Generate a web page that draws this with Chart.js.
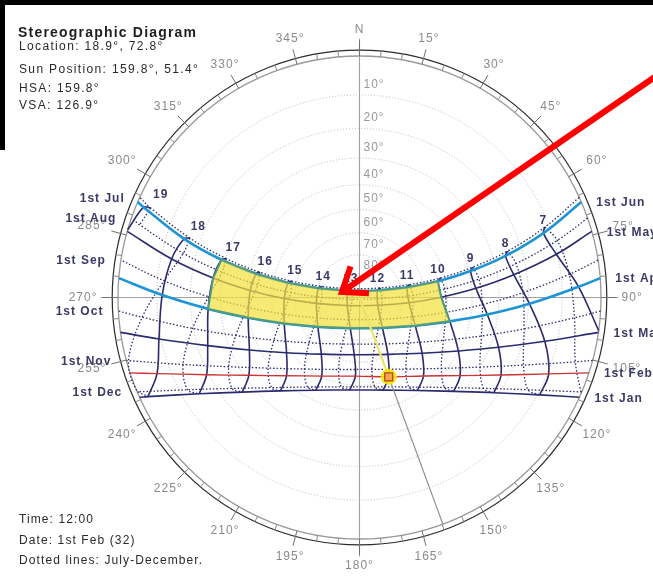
<!DOCTYPE html>
<html>
<head>
<meta charset="utf-8">
<script src="https://cdn.jsdelivr.net/npm/chart.js@4.4.1/dist/chart.umd.min.js"></script>
<style>
  html, body { margin: 0; padding: 0; background: #fff; }
  canvas { display: block; }
</style>
</head>
<body>
<canvas id="c" width="653" height="581"></canvas>
<script>
// Clock hours drawn as hour lines
const hours = [7, 8, 9, 10, 11, 12, 13, 14, 15, 16, 17, 18, 19];

// Sun position [azimuth, altitude] in degrees on the 1st of each month, one entry per clock hour (null = below horizon)
const jan = [null, [118.4, 9.4], [125.3, 21.4], [134.9, 32.3], [148.1, 41.2], [165.7, 46.8], [186.0, 47.9], [205.2, 44.0], [220.2, 36.3], [231.1, 26.1], [239.0, 14.5], [244.9, 1.9], null];
const feb = [null, [112.0, 9.6], [118.7, 22.5], [127.8, 34.4], [140.8, 44.5], [159.8, 51.4], [183.0, 53.9], [205.7, 50.3], [223.0, 42.2], [234.9, 31.5], [243.2, 19.3], [249.4, 6.3], null];
const mar = [[97.9, 0], [103.3, 13.5], [109.7, 27.1], [118.4, 40.1], [131.7, 51.7], [153.5, 60.5], [185.3, 63.2], [214.0, 58.4], [232.9, 48.5], [244.5, 36.4], [252.4, 23.2], [258.3, 9.4], null];
const apr = [[87.2, 5.5], [92.1, 19.7], [97.6, 33.8], [104.8, 47.7], [116.8, 61.0], [142.9, 72.1], [196.8, 74.9], [234.8, 66.2], [250.9, 53.5], [259.7, 39.8], [265.7, 25.7], [270.7, 11.5], null];
const may = [[77.6, 10.3], [81.6, 24.3], [85.5, 38.4], [89.8, 52.6], [96.0, 66.7], [113.1, 80.6], [236.7, 83.1], [262.2, 69.6], [269.2, 55.4], [273.7, 41.2], [277.6, 27.1], [281.6, 13.1], [286.3, 0]];
const jun = [[70.7, 12.2], [74.1, 25.7], [76.6, 39.4], [78.3, 53.3], [78.0, 67.2], [68.5, 80.9], [300.3, 83.7], [282.6, 70.2], [281.6, 56.3], [282.9, 42.5], [285.3, 28.7], [288.5, 15.1], [292.7, 1.8]];
const jul = [[69.2, 11.2], [72.6, 24.6], [75.0, 38.2], [76.4, 52.0], [75.5, 65.8], [65.2, 79.2], [316.7, 84.2], [286.4, 71.4], [283.6, 57.7], [284.2, 43.9], [286.3, 30.2], [289.3, 16.7], [293.2, 3.5]];
const aug = [[73.9, 9.1], [77.8, 22.9], [81.2, 36.8], [84.3, 50.9], [87.6, 65.1], [92.4, 79.3], [257.8, 86.4], [270.4, 72.2], [274.1, 58.1], [277.2, 44.0], [280.5, 29.9], [284.1, 16.1], [288.3, 2.4]];
const sep = [[83.7, 7.7], [88.3, 21.8], [93.3, 36.0], [99.7, 50.1], [110.3, 63.9], [136.8, 75.9], [206.7, 78.3], [244.7, 67.7], [257.8, 54.2], [265.0, 40.2], [270.3, 26.0], [274.9, 11.8], null];
const oct = [[95.4, 6.4], [100.8, 20.5], [107.5, 34.2], [117.0, 47.4], [132.9, 59.1], [161.5, 67.0], [200.3, 66.8], [228.1, 58.6], [243.5, 46.8], [252.9, 33.6], [259.5, 19.8], [264.8, 5.8], null];
const nov = [[106.6, 4.0], [112.4, 17.4], [120.0, 30.1], [130.9, 41.7], [147.1, 51.1], [170.2, 56.4], [196.2, 55.5], [217.6, 49.0], [232.3, 38.9], [242.1, 27.0], [249.2, 14.0], [254.7, 0.5], null];
const dec = [[113.1, 0.2], [118.7, 13.0], [126.2, 25.0], [136.6, 35.7], [151.1, 44.1], [170.2, 48.8], [191.4, 48.6], [210.1, 43.6], [224.3, 34.9], [234.5, 24.1], [241.8, 12.1], [247.6, 0], null];

// Sunrise and sunset azimuths (degrees) for the same dates
const sunrise = [114.4, 108.2, 98.3, 85.4, 74.1, 66.7, 65.5, 70.8, 81.1, 93.2, 105.1, 113.0];
const sunset = [245.6, 251.8, 261.7, 274.6, 285.9, 293.3, 294.5, 289.2, 278.9, 266.8, 254.9, 247.0];

const monthLabels = ['1st Jan', '1st Feb', '1st Mar', '1st Apr', '1st May', '1st Jun',
                     '1st Jul', '1st Aug', '1st Sep', '1st Oct', '1st Nov', '1st Dec'];

// Axis ticks
const altitudeTicks = [10, 20, 30, 40, 50, 60, 70, 80];
const azimuthTicks = [0, 15, 30, 45, 60, 75, 90, 105, 120, 135, 150, 165, 180, 195, 210, 225, 240, 255, 270, 285, 300, 315, 330, 345];

// Current sun position [azimuth, altitude] and the shaded window (hours 10-17, April to June)
const sunPos = [159.8, 51.4];
const shadeHours = [10, 17];
const arrowTip = [287.4, 81.3];

const infoLines = ['Location: 18.9°, 72.8°', 'Sun Position: 159.8°, 51.4°', 'HSA: 159.8°', 'VSA: 126.9°'];
const footLines = ['Time: 12:00', 'Date: 1st Feb (32)', 'Dotted lines: July-December.'];

const months = [jan, feb, mar, apr, may, jun, jul, aug, sep, oct, nov, dec];

// Stereographic projection of (azimuth, altitude) onto the plane, horizon radius = 1
function proj(az, alt) {
  const t = Math.tan((90 - alt) * Math.PI / 360);
  const a = az * Math.PI / 180;
  return { x: t * Math.sin(a), y: t * Math.cos(a) };
}

function dateLine(i) {
  const pts = [proj(sunrise[i], 0)];
  months[i].forEach(p => { if (p && p[1] > 0) pts.push(proj(p[0], p[1])); });
  pts.push(proj(sunset[i], 0));
  return pts;
}

function hourLine(list, j) {
  return list.map(m => m[j]).filter(p => p).map(p => proj(p[0], p[1]));
}

const NAVY = '#2a2a6e';
const datasets = [];

// sun marker
datasets.push({ data: [proj(sunPos[0], sunPos[1])], pointRadius: 5.6, pointStyle: 'rect',
  pointBackgroundColor: '#f2a54e', pointBorderColor: '#b5480f', pointBorderWidth: 1.3, order: -2 });
datasets.push({ data: [proj(sunPos[0], sunPos[1])], pointRadius: 8, pointBackgroundColor: 'rgba(247,228,10,0.9)',
  pointBorderWidth: 0, order: -1 });

// sun azimuth line: zenith to sun, sun to horizon
datasets.push({ data: [proj(sunPos[0], 90), proj(sunPos[0], sunPos[1])], showLine: true,
  borderColor: '#ebe46a', borderWidth: 2.2, pointRadius: 0, order: 0 });
datasets.push({ data: [proj(sunPos[0], sunPos[1]), proj(sunPos[0], 0)], showLine: true,
  borderColor: '#8d8d8d', borderWidth: 1.2, pointRadius: 0, order: 0 });

// shaded window
(function () {
  const a = hours.indexOf(shadeHours[0]), b = hours.indexOf(shadeHours[1]);
  const pts = [];
  for (let j = a; j <= b; j++) pts.push(proj(jun[j][0], jun[j][1]));
  pts.push(proj(may[b][0], may[b][1]));
  for (let j = b; j >= a; j--) pts.push(proj(apr[j][0], apr[j][1]));
  pts.push(proj(may[a][0], may[a][1]));
  pts.push(proj(jun[a][0], jun[a][1]));
  datasets.push({ data: pts, showLine: true, fill: 'shape', tension: 0,
    backgroundColor: 'rgba(242,224,62,0.72)', borderColor: '#4f9a82', borderWidth: 2,
    pointRadius: 0, order: 1 });
})();

// highlighted limit dates (1st Jun, 1st Apr)
[5, 3].forEach(i => datasets.push({ data: dateLine(i), showLine: true, tension: 0.4,
  borderColor: '#1e93d6', borderWidth: 2.6, pointRadius: 0, order: 2 }));

// current date (1st Feb)
datasets.push({ data: dateLine(1), showLine: true, tension: 0.4,
  borderColor: '#cc3333', borderWidth: 1.3, pointRadius: 0, order: 3 });

// remaining date lines: Jan-Jun solid, Jul-Dec dotted
[0, 2, 4].forEach(i => datasets.push({ data: dateLine(i), showLine: true, tension: 0.4,
  borderColor: NAVY, borderWidth: 1.6, pointRadius: 0, order: 5 }));
[6, 7, 8, 9, 10, 11].forEach(i => datasets.push({ data: dateLine(i), showLine: true, tension: 0.4,
  borderColor: NAVY, borderWidth: 1.3, borderDash: [1.5, 2], pointRadius: 0, order: 6 }));

// hour lines: Jan->Jul solid, Jul->Jan dotted
const firstHalf = [jan, feb, mar, apr, may, jun, jul];
const secondHalf = [jul, aug, sep, oct, nov, dec, jan];
hours.forEach((h, j) => {
  datasets.push({ data: hourLine(firstHalf, j), showLine: true, tension: 0.35,
    borderColor: NAVY, borderWidth: 1.6, pointRadius: 0, order: 5 });
  datasets.push({ data: hourLine(secondHalf, j), showLine: true, tension: 0.35,
    borderColor: NAVY, borderWidth: 1.3, borderDash: [1.5, 2], pointRadius: 0, order: 6 });
});

const FONT = '"Liberation Sans", Arial, sans-serif';

const backdrop = {
  id: 'backdrop',
  beforeDraw(chart) {
    const ctx = chart.ctx;
    ctx.save();
    ctx.fillStyle = '#fff';
    ctx.fillRect(0, 0, chart.width, chart.height);
    ctx.fillStyle = '#000';
    ctx.fillRect(0, 0, chart.width, 5);
    ctx.fillRect(0, 0, 5, 150);
    ctx.restore();
  }
};

// Polar grid: altitude rings, horizon rings, azimuth ticks and labels
const stereoGrid = {
  id: 'stereoGrid',
  beforeDatasetsDraw(chart) {
    const { ctx, scales: { x, y } } = chart;
    const cx = x.getPixelForValue(0), cy = y.getPixelForValue(0);
    const R = x.getPixelForValue(1) - cx;
    ctx.save();

    // altitude rings
    ctx.strokeStyle = '#bcbcbc';
    ctx.lineWidth = 1;
    ctx.setLineDash([1, 2]);
    altitudeTicks.forEach(a => {
      const r = x.getPixelForValue(Math.tan((90 - a) * Math.PI / 360)) - cx;
      ctx.beginPath();
      ctx.arc(cx, cy, r, 0, Math.PI * 2);
      ctx.stroke();
    });
    ctx.setLineDash([]);

    // main axes N-S and E-W
    ctx.strokeStyle = '#a0a0a0';
    ctx.lineWidth = 1.1;
    [0, 90].forEach(az => {
      const s = Math.sin(az * Math.PI / 180), c = Math.cos(az * Math.PI / 180);
      const L = R * 1.072;
      ctx.beginPath();
      ctx.moveTo(cx - s * L, cy + c * L);
      ctx.lineTo(cx + s * L, cy - c * L);
      ctx.stroke();
    });

    // horizon rings
    ctx.strokeStyle = '#9a9a9a';
    ctx.lineWidth = 1.3;
    ctx.beginPath(); ctx.arc(cx, cy, R, 0, Math.PI * 2); ctx.stroke();
    ctx.strokeStyle = '#2b2b2b';
    ctx.lineWidth = 1.2;
    ctx.beginPath(); ctx.arc(cx, cy, R * 1.024, 0, Math.PI * 2); ctx.stroke();

    // azimuth ticks
    for (let az = 0; az < 360; az += 5) {
      const s = Math.sin(az * Math.PI / 180), c = Math.cos(az * Math.PI / 180);
      const major = az % 15 === 0;
      const r2 = major ? R * 1.064 : R * 1.024;
      ctx.strokeStyle = major ? '#707070' : '#8a8a8a';
      ctx.lineWidth = 1;
      ctx.beginPath();
      ctx.moveTo(cx + s * R, cy - c * R);
      ctx.lineTo(cx + s * r2, cy - c * r2);
      ctx.stroke();
    }

    // azimuth labels, each box pushed just outside the tick ring
    ctx.font = '12px ' + FONT;
    ctx.letterSpacing = '1px';
    ctx.fillStyle = '#8a8a8a';
    ctx.textAlign = 'center';
    ctx.textBaseline = 'middle';
    azimuthTicks.forEach(az => {
      const s = Math.sin(az * Math.PI / 180), c = Math.cos(az * Math.PI / 180);
      const txt = az === 0 ? 'N' : az + '°';
      const hw = ctx.measureText(txt).width / 2, hh = 6;
      const box = Math.min(Math.abs(s) > 1e-6 ? hw / Math.abs(s) : 1e9, Math.abs(c) > 1e-6 ? hh / Math.abs(c) : 1e9);
      const off = R * 1.085 + box;
      ctx.fillText(txt, cx + s * off, cy - c * off);
    });

    // altitude labels along the north axis
    ctx.fillStyle = '#999';
    ctx.textAlign = 'left';
    altitudeTicks.forEach(a => {
      const r = x.getPixelForValue(Math.tan((90 - a) * Math.PI / 360)) - cx;
      ctx.fillText(a + '°', cx + 4, cy - r - 10.5);
    });
    ctx.restore();
  }
};

// Text: title block, footer, date and hour labels, pointer arrow
const annotations = {
  id: 'annotations',
  afterDatasetsDraw(chart) {
    const { ctx, scales: { x, y } } = chart;
    const cx = x.getPixelForValue(0);
    const toPx = p => ({ x: x.getPixelForValue(p.x), y: y.getPixelForValue(p.y) });
    ctx.save();

    // hour labels above the June line
    ctx.font = 'bold 12px ' + FONT;
    ctx.letterSpacing = '1px';
    ctx.fillStyle = '#3a3a68';
    ctx.textAlign = 'center';
    ctx.textBaseline = 'middle';
    hours.forEach((h, j) => {
      const p = toPx(proj(jun[j][0], jun[j][1]));
      const dx = p.x < cx ? (cx - p.x) * 0.07 + 2 : 0;
      ctx.fillText(String(h), p.x + dx, p.y - 12);
    });

    // month labels at sunrise (Jan-Jun) and sunset (Jul-Dec)
    monthLabels.forEach((txt, i) => {
      if (i < 6) {
        const p = toPx(proj(sunrise[i], 0));
        ctx.textAlign = 'left';
        ctx.fillText(txt, p.x + 15, p.y + 1);
      } else {
        const p = toPx(proj(sunset[i], 0));
        ctx.textAlign = 'right';
        ctx.fillText(txt, p.x - 15, p.y + 1);
      }
    });

    // title block
    ctx.textAlign = 'left';
    ctx.fillStyle = '#1e1e1e';
    ctx.font = 'bold 14px ' + FONT;
    ctx.letterSpacing = '1.2px';
    ctx.textBaseline = 'alphabetic';
    ctx.fillText('Stereographic Diagram', 18, 37);
    ctx.font = '12px ' + FONT;
    ctx.letterSpacing = '1.35px';
    ctx.textBaseline = 'middle';
    ctx.fillStyle = '#2a2a2a';
    [47, 70, 89, 106].forEach((yy, k) => ctx.fillText(infoLines[k], 19, yy));
    ctx.letterSpacing = '1.1px';
    [520, 541, 561].forEach((yy, k) => ctx.fillText(footLines[k], 19, yy));

    // pointer arrow
    const tip = toPx(proj(arrowTip[0], arrowTip[1]));
    const ang = -34.5 * Math.PI / 180;
    ctx.strokeStyle = '#ff0000';
    ctx.lineWidth = 6;
    ctx.lineCap = 'butt';
    ctx.lineJoin = 'miter';
    ctx.beginPath();
    ctx.moveTo(tip.x + Math.cos(ang) * 3, tip.y + Math.sin(ang) * 3);
    ctx.lineTo(tip.x + Math.cos(ang) * 450, tip.y + Math.sin(ang) * 450);
    ctx.stroke();
    const wing = 37 * Math.PI / 180;
    ctx.beginPath();
    ctx.moveTo(tip.x + Math.cos(ang - wing) * 27, tip.y + Math.sin(ang - wing) * 27);
    ctx.lineTo(tip.x, tip.y);
    ctx.lineTo(tip.x + Math.cos(ang + wing) * 27, tip.y + Math.sin(ang + wing) * 27);
    ctx.stroke();
    ctx.restore();
  }
};

// Plane extents chosen so the horizon ring (radius 1) sits at the diagram centre
const CX = 359.5, CY = 297.5, RPX = 241.5, W = 653, H = 581;

new Chart(document.getElementById('c'), {
  type: 'scatter',
  data: { datasets },
  options: {
    responsive: false,
    animation: false,
    devicePixelRatio: 1,
    events: [],
    layout: { padding: 0, autoPadding: false },
    scales: {
      x: { type: 'linear', display: false, min: -CX / RPX, max: (W - CX) / RPX },
      y: { type: 'linear', display: false, min: -(H - CY) / RPX, max: CY / RPX }
    },
    plugins: { legend: { display: false }, tooltip: { enabled: false } }
  },
  plugins: [backdrop, stereoGrid, annotations]
});
</script>
</body>
</html>
